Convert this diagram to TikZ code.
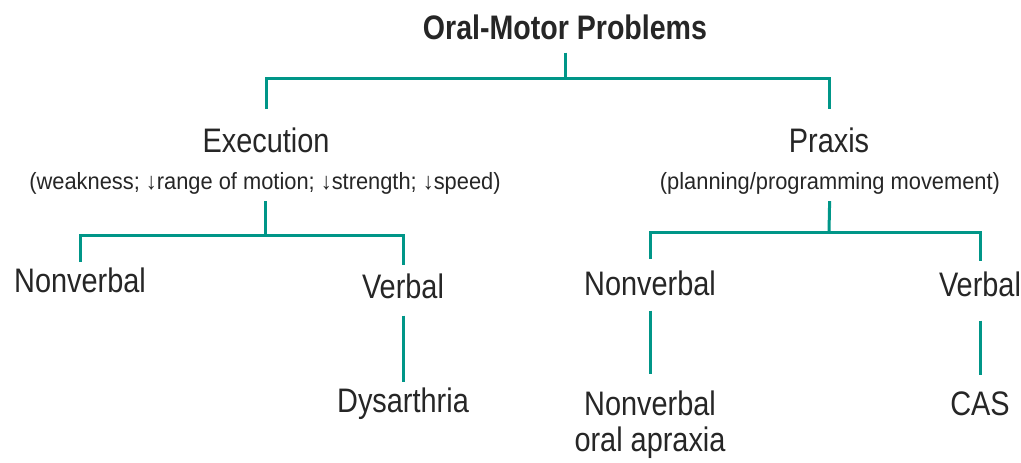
\documentclass[tikz,border=0pt]{standalone}
\usepackage{fontspec}
\setmainfont[FakeStretch=0.85]{Liberation Sans}
\newfontfamily\headfont[FakeStretch=0.84]{Liberation Sans}
\newfontfamily\subfont[FakeStretch=0.93]{Liberation Sans}
\definecolor{tealline}{RGB}{0,150,136}
\definecolor{inkgray}{RGB}{38,38,38}
\usetikzlibrary{positioning}

\begin{document}
\begin{tikzpicture}[x=1pt, y=-1pt,
  lbl/.style={inner sep=0pt, anchor=base, text=inkgray,
    font=\fontsize{34}{36}\selectfont},
  sub/.style={inner sep=0pt, anchor=base, text=inkgray,
    font=\subfont\fontsize{23.5}{26}\selectfont},
  link/.style={draw=tealline, line width=3pt},
]
\useasboundingbox[fill=white] (0,0) rectangle (1021,463);

% Root and first level
\node[lbl, font=\headfont\bfseries\fontsize{34}{36}\selectfont]
  (top) at (565,39) {Oral-Motor Problems};
\node[lbl] (exec) at (266,152) {Execution};
\node[sub] (execsub) at (265,189) {(weakness; ↓range of motion; ↓strength; ↓speed)};
\node[lbl] (prax) at (829,152) {Praxis};
\node[sub] (praxsub) at (830,189) {(planning/programming movement)};

% Execution branch
\node[lbl] (nvexec) at (80,292) {Nonverbal};
\node[lbl] (vbexec) at (403,298) {Verbal};
\node[lbl] (dysar) at (403,412) {Dysarthria};

% Praxis branch
\node[lbl] (nvprax) at (650,295) {Nonverbal};
\node[lbl] (vbprax) at (980,296) {Verbal};
\node[lbl, anchor=north, align=center] (oralapx) at (650,391) {Nonverbal\\oral apraxia};
\node[lbl] (cas) at (980,415) {CAS};

% Junctions of the brackets
\coordinate (jtop) at (565,78);
\coordinate (jexec) at (265,235);
\coordinate (jprax) at (829,232);

% Connectors
\draw[link, shorten <=13pt] (top) -- (jtop);
\draw[link, shorten <=18pt, shorten >=18pt] (exec) |- (jtop) -| (prax);
\draw[link, shorten <=7pt] (execsub) -- (jexec);
\draw[link, shorten <=5pt, shorten >=8pt] (nvexec) |- (jexec) -| (vbexec);
\draw[link, shorten <=17pt, shorten >=5pt] (vbexec) -- (dysar);
\draw[link, shorten <=7pt] (praxsub) -- (jprax);
\draw[link, shorten <=11pt, shorten >=10pt] (nvprax) |- (jprax) -| (vbprax);
\draw[link, shorten <=15pt, shorten >=17pt] (nvprax) -- (oralapx);
\draw[link, shorten <=24pt, shorten >=16pt] (vbprax) -- (cas);
\end{tikzpicture}
\end{document}
